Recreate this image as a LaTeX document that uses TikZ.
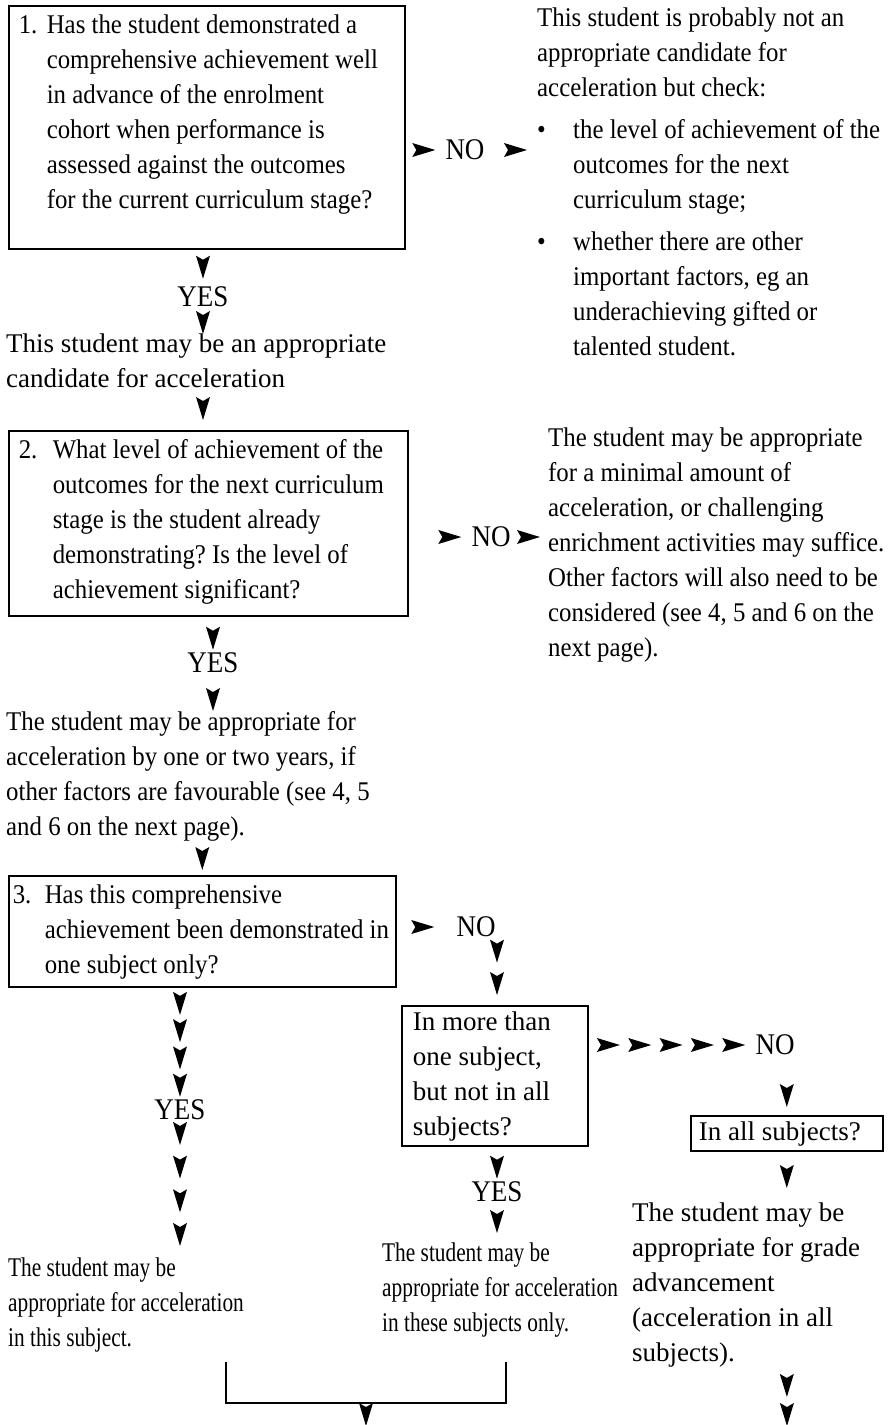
\documentclass[tikz,border=0pt]{standalone}
\usepackage{fontspec}
\setmainfont{Liberation Serif}[FakeStretch=0.92]
\usetikzlibrary{decorations.markings}
\frenchspacing
\newcommand{\txtfont}{\fontsize{27}{35}\selectfont}
\newcommand{\dartgap}{0pt}
\tikzstyle{question} = [rectangle, draw, line width=1.6pt, anchor=north west,
    inner xsep=10pt, inner ysep=3pt, align=flush left]
\tikzstyle{answer} = [anchor=north west, inner sep=0pt, align=left]
\tikzstyle{reply} = [inner xsep=10pt, inner ysep=3pt,
    font={\fontsize{30}{35}\selectfont\addfontfeature{FakeStretch=0.9}}]
\tikzstyle{narrow} = [font={\txtfont\addfontfeature{FakeStretch=0.79}}]
\tikzstyle{wide} = [font={\txtfont\addfontfeature{FakeStretch=1.0}}]
\tikzset{tipgap/.code={\renewcommand{\dartgap}{#1}},
    darts/.style={decorate, decoration={markings,
        mark=between positions #1 and 1 step #1 with
            {\fill [xshift=-\dartgap] (0pt,0pt) -- (-23pt,7pt) -- (-19pt,0pt) -- (-23pt,-7pt) -- cycle;}}},
    darts/.default=0.9999}

\begin{document}
\begin{tikzpicture}[x=1pt, y=-1pt, font=\txtfont]
    \useasboundingbox (0,0) rectangle (895,1425);
    % Place nodes
    \node [question, text width=376pt] (task1) at (8,5) {\begin{tabular}{@{}p{28pt}@{}l@{}}
        1. & Has the student demonstrated a\\
           & comprehensive achievement well\\
           & in advance of the enrolment\\
           & cohort when performance is\\
           & assessed against the outcomes\\
           & for the current curriculum stage?\\[27pt]
        \end{tabular}};
    \node [reply] (no1) at (465,150) {NO};
    \node [answer] (notcand) at (537,2) {\begin{tabular}{@{}p{36pt}@{}l@{}}
        \multicolumn{2}{@{}l@{}}{This student is probably not an}\\
        \multicolumn{2}{@{}l@{}}{appropriate candidate for}\\
        \multicolumn{2}{@{}l@{}}{acceleration but check:}\\[7pt]
        • & the level of achievement of the\\
          & outcomes for the next\\
          & curriculum stage;\\[7pt]
        • & whether there are other\\
          & important factors, eg an\\
          & underachieving gifted or\\
          & talented student.
        \end{tabular}};
    \node [reply] (yes1) at (203,297) {YES};
    \node [answer, wide] (cand) at (6,334) {This student may be an appropriate\\candidate for acceleration};

    \node [question, text width=379pt] (task2) at (8,430) {\begin{tabular}{@{}p{34pt}@{}l@{}}
        2. & What level of achievement of the\\
           & outcomes for the next curriculum\\
           & stage is the student already\\
           & demonstrating? Is the level of\\
           & achievement significant?\\[4pt]
        \end{tabular}};
    \node [reply] (no2) at (491,537) {NO};
    \node [answer] (minimal) at (548,428) {The student may be appropriate\\for a minimal amount of\\acceleration, or challenging\\enrichment activities may suffice.\\Other factors will also need to be\\considered (see 4, 5 and 6 on the\\next page).};
    \node [reply] (yes2) at (213,663) {YES};
    \node [answer] (maybe) at (6,711) {The student may be appropriate for\\acceleration by one or two years, if\\other factors are favourable (see 4, 5\\and 6 on the next page).};

    \node [question, text width=379pt, inner xsep=4pt] (task3) at (8,875) {\begin{tabular}{@{}p{32pt}@{}l@{}}
        3. & Has this comprehensive\\
           & achievement been demonstrated in\\
           & one subject only?
        \end{tabular}};
    \node [reply] (no3) at (476,927) {NO};
    \node [question, wide, text width=164pt, inner xsep=11pt, inner ysep=0pt] (more) at (401,1005) {\begin{tabular}{@{}l@{}}
        In more than\\one subject,\\but not in all\\subjects?
        \end{tabular}};
    \node [reply] (no4) at (775,1045) {NO};
    \node [question, wide, text width=176pt, inner xsep=8pt, inner ysep=0pt] (all) at (690,1115) {\begin{tabular}{@{}l@{}}
        In all subjects?
        \end{tabular}};
    \node [reply] (yes3) at (180,1110) {YES};
    \node [reply] (yes4) at (497,1192) {YES};
    \node [answer, narrow] (onesub) at (8,1258) {The student may be\\appropriate for acceleration\\in this subject.};
    \node [answer, narrow] (somesub) at (382,1243) {The student may be\\appropriate for acceleration\\in these subjects only.};
    \node [answer, wide] (grade) at (632,1203) {The student may be\\appropriate for grade\\advancement\\(acceleration in all\\subjects).};

    \coordinate (brl) at (226,1362);
    \coordinate (brr) at (506,1362);
    \coordinate (brm) at (366,1403);
    \coordinate (out1) at (366,1426);
    \coordinate (out2) at (787,1426);

    % Draw edges
    \path [darts] (task1.east |- no1) -- (no1.west);
    \path [darts, tipgap=10pt] (no1.east) -- (notcand.west |- no1);
    \path [darts, tipgap=5pt] (yes1 |- task1.south) -- (yes1.north);
    \path [darts] (yes1.south) -- (yes1 |- cand.north);
    \path [darts, tipgap=10pt] (yes1 |- cand.south) -- (yes1 |- task2.north);

    \path [darts] (task2.east |- no2) -- (no2.west);
    \path [darts, tipgap=8pt] (no2.east) -- (minimal.west |- no2);
    \path [darts] (yes2 |- task2.south) -- (yes2.north);
    \path [darts] (yes2.south) -- (yes2 |- maybe.north);
    \path [darts, tipgap=5pt] (task3.north |- maybe.south) -- (task3.north);

    \path [darts, tipgap=12pt] (task3.east |- no3) -- (no3.west);
    \path [darts=0.4999, tipgap=10pt] (no3.south -| yes4) -- (more.north -| yes4);
    \path [darts=0.2499] (yes3 |- task3.south) -- (yes3.north);
    \path [darts=0.2499, tipgap=12pt] (yes3.south) -- (yes3 |- onesub.north);
    \path [darts] (yes4 |- more.south) -- (yes4.north);
    \path [darts, tipgap=10pt] (yes4.south) -- (yes4 |- somesub.north);
    \path [darts=0.1999] (more.east |- no4) -- (no4.west);
    \path [darts, tipgap=8pt] (no4.south -| all) -- (all.north);
    \path [darts, tipgap=15pt] (all.south) -- (all |- grade.north);
    \path [darts=0.4999] (all |- grade.south) -- (out2);

    \draw [line width=1.6pt] (brl) -- (brl |- brm) -- (brr |- brm) -- (brr);
    \path [darts] (brm) -- (out1);
\end{tikzpicture}
\end{document}
